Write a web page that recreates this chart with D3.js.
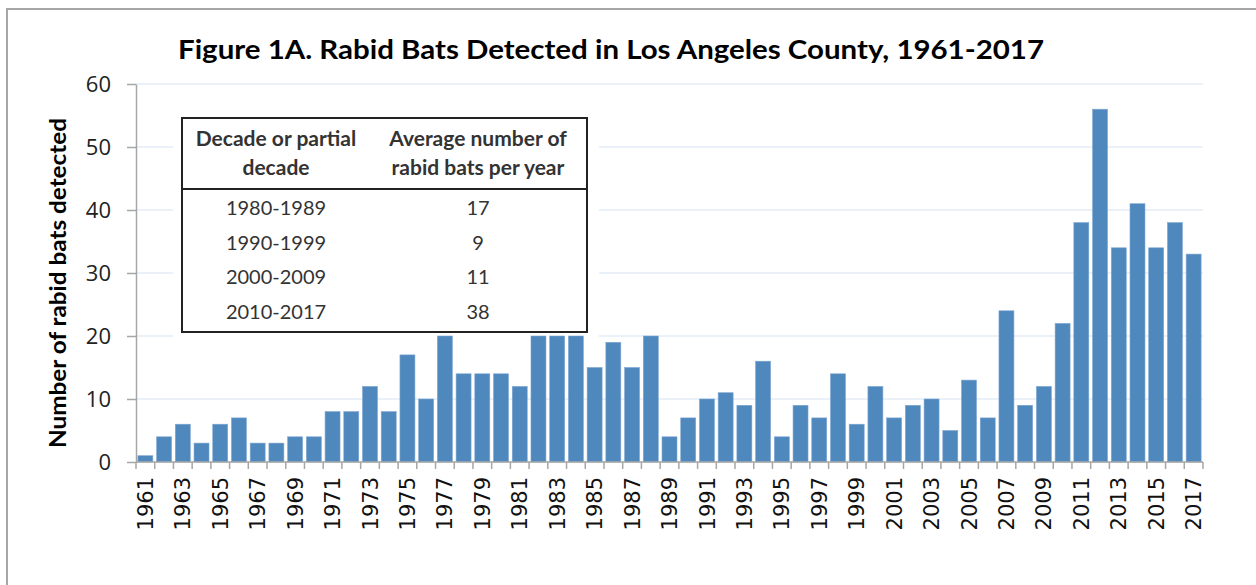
<!DOCTYPE html>
<html>
<head>
<meta charset="utf-8">
<script src="https://cdn.jsdelivr.net/npm/d3@7"></script>
<style>
  body { margin: 0; background: #fff; }
  svg { display: block; }
</style>
</head>
<body>
<svg class="target"></svg>
<script>
// values
const years = d3.range(1961, 2018);
const bats = [1, 4, 6, 3, 6, 7, 3, 3, 4, 4,
    8, 8, 12, 8, 17, 10, 20, 14, 14, 14,
    12, 20, 20, 20, 15, 19, 15, 20, 4, 7,
    10, 11, 9, 16, 4, 9, 7, 14, 6, 12,
    7, 9, 10, 5, 13, 7, 24, 9, 12, 22,
    38, 56, 34, 41, 34, 38, 33];
const yTicks = [0, 10, 20, 30, 40, 50, 60];
const tableHead = [["Decade or partial", "decade"], ["Average number of", "rabid bats per year"]];
const decades = ["1980-1989", "1990-1999", "2000-2009", "2010-2017"];
const decadeAvg = [17, 9, 11, 38];

document.addEventListener("DOMContentLoaded", function() {
    drawChart();
});

function drawChart() {
    const width = 1256;
    const height = 585;
    const svg = d3.select(".target")
        .attr("width", width)
        .attr("height", height);

    const left = 136, right = 1203, top = 84, bottom = 462;
    const data = years.map((y, i) => ({year: y, value: bats[i]}));

    const x = d3.scaleBand()
        .domain(years)
        .range([left, right])
        .paddingInner(0.2)
        .paddingOuter(0.1);
    const y = d3.scaleLinear()
        .domain([0, 60])
        .range([bottom, top]);

    // outer frame (only top and left edge visible)
    svg.append("path")
        .attr("d", "M7,585V9H1256")
        .attr("fill", "none")
        .attr("stroke", "#a6a6a6")
        .attr("stroke-width", 2);

    // title
    svg.append("text")
        .attr("x", 611)
        .attr("y", 59)
        .attr("text-anchor", "middle")
        .attr("font-family", "Lato, 'Open Sans', sans-serif")
        .attr("font-weight", "bold")
        .attr("font-size", 26)
        .attr("textLength", 866)
        .attr("lengthAdjust", "spacingAndGlyphs")
        .attr("fill", "#000")
        .text("Figure 1A. Rabid Bats Detected in Los Angeles County, 1961-2017");

    // grid
    svg.append("g")
        .selectAll("line")
        .data(yTicks.filter(d => d > 0))
        .enter()
        .append("line")
        .attr("x1", left)
        .attr("x2", right)
        .attr("y1", d => y(d))
        .attr("y2", d => y(d))
        .attr("stroke", "#e4edf7")
        .attr("stroke-width", 1.5);

    // white backing for the table
    svg.append("rect")
        .attr("x", 173)
        .attr("y", 100)
        .attr("width", 426)
        .attr("height", 237)
        .attr("fill", "#fff");

    // bars
    svg.append("g")
        .selectAll("rect")
        .data(data)
        .enter()
        .append("rect")
        .attr("x", d => x(d.year))
        .attr("y", d => y(d.value))
        .attr("width", x.bandwidth())
        .attr("height", d => y(0) - y(d.value))
        .attr("fill", "#4f88bd")
        .attr("stroke", "#7ea7d3")
        .attr("stroke-width", 0.6);

    // y axis
    const yAxis = svg.append("g")
        .attr("transform", "translate(" + left + ",0)")
        .call(d3.axisLeft(y).tickValues(yTicks).tickSize(9).tickPadding(16).tickSizeOuter(0));
    yAxis.select(".domain").attr("stroke", "#a6a6a6").attr("stroke-width", 1.5);
    yAxis.selectAll(".tick line").attr("stroke", "#a6a6a6").attr("stroke-width", 1.5);
    yAxis.selectAll(".tick text")
        .attr("font-family", "'Open Sans', sans-serif")
        .attr("font-size", 22)
        .attr("fill", "#222");

    // x axis: ticks on band edges, labels on odd years
    const xg = svg.append("g");
    xg.append("line")
        .attr("x1", left)
        .attr("x2", right)
        .attr("y1", bottom)
        .attr("y2", bottom)
        .attr("stroke", "#a6a6a6")
        .attr("stroke-width", 1.5);
    const edges = years.map(d => x(d) - x.step() * x.paddingInner() / 2);
    edges[0] = left;
    edges.push(right);
    xg.selectAll(".edge")
        .data(edges)
        .enter()
        .append("line")
        .attr("class", "edge")
        .attr("x1", d => d)
        .attr("x2", d => d)
        .attr("y1", bottom)
        .attr("y2", bottom + 7)
        .attr("stroke", "#a6a6a6")
        .attr("stroke-width", 1.5);
    xg.selectAll(".lbl")
        .data(years.filter((d, i) => i % 2 === 0))
        .enter()
        .append("text")
        .attr("class", "lbl")
        .attr("transform", d => "translate(" + (x(d) + x.bandwidth() / 2) + "," + (bottom + 15) + ") rotate(-90)")
        .attr("dy", "0.36em")
        .attr("text-anchor", "end")
        .attr("font-family", "'DejaVu Sans', sans-serif")
        .attr("font-size", 21)
        .attr("fill", "#111")
        .text(d => d);

    // y axis title
    svg.append("text")
        .attr("transform", "translate(66,283) rotate(-90)")
        .attr("text-anchor", "middle")
        .attr("font-family", "Lato, 'Open Sans', sans-serif")
        .attr("font-weight", "bold")
        .attr("font-size", 23)
        .attr("textLength", 330)
        .attr("lengthAdjust", "spacingAndGlyphs")
        .attr("fill", "#000")
        .text("Number of rabid bats detected");

    // inset table
    const tb = svg.append("g");
    tb.append("rect")
        .attr("x", 182)
        .attr("y", 118)
        .attr("width", 405)
        .attr("height", 214)
        .attr("fill", "#fff")
        .attr("stroke", "#222")
        .attr("stroke-width", 2);
    tb.append("line")
        .attr("x1", 182)
        .attr("x2", 587)
        .attr("y1", 189)
        .attr("y2", 189)
        .attr("stroke", "#222")
        .attr("stroke-width", 2);
    const colX = [276, 478];
    tableHead.forEach(function(lines, c) {
        lines.forEach(function(t, k) {
            tb.append("text")
                .attr("x", colX[c])
                .attr("y", 146 + k * 29)
                .attr("text-anchor", "middle")
                .attr("font-family", "Lato, 'Open Sans', sans-serif")
                .attr("font-weight", "bold")
                .attr("font-size", 21)
                .attr("fill", "#333")
                .text(t);
        });
    });
    tb.selectAll(".dec")
        .data(decades)
        .enter()
        .append("text")
        .attr("x", colX[0])
        .attr("y", (d, i) => 215 + i * 34.5)
        .attr("text-anchor", "middle")
        .attr("font-family", "Lato, 'Open Sans', sans-serif")
        .attr("font-size", 20)
        .attr("fill", "#333")
        .text(d => d);
    tb.selectAll(".avg")
        .data(decadeAvg)
        .enter()
        .append("text")
        .attr("x", colX[1])
        .attr("y", (d, i) => 215 + i * 34.5)
        .attr("text-anchor", "middle")
        .attr("font-family", "Lato, 'Open Sans', sans-serif")
        .attr("font-size", 20)
        .attr("fill", "#333")
        .text(d => d);
}
</script>
</body>
</html>
